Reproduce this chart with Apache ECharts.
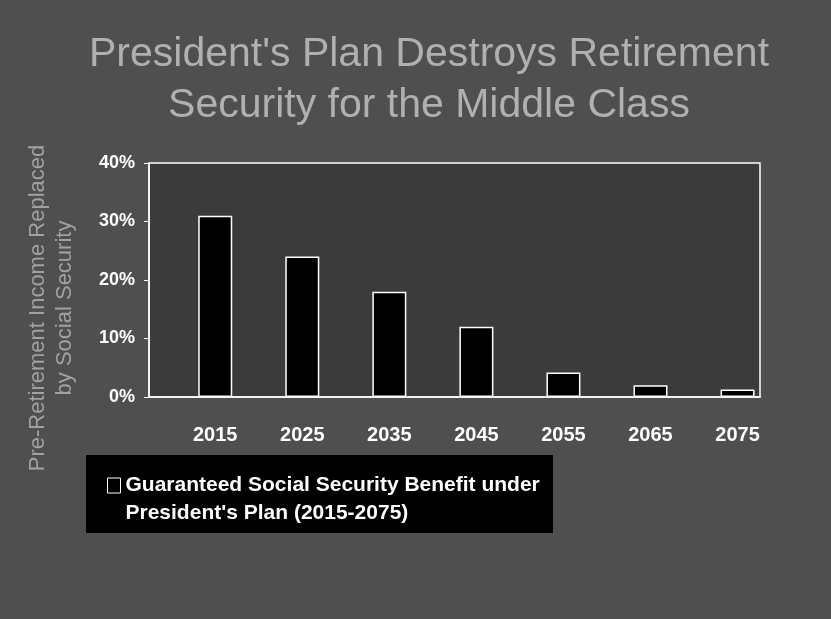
<!DOCTYPE html>
<html>
<head>
<meta charset="utf-8">
<title>President's Plan Destroys Retirement Security for the Middle Class</title>
<script src="https://cdn.jsdelivr.net/npm/echarts@6/dist/echarts.min.js"></script>
<style>
  html, body { margin: 0; padding: 0; background: #4f4f4f; }
  #chart { width: 831px; height: 619px; }
</style>
</head>
<body>
<div id="chart"></div>
<script>
// Share of pre-retirement income replaced by the guaranteed benefit, by year
const years = [2015, 2025, 2035, 2045, 2055, 2065, 2075];
const benefitPct = [31, 24, 18, 12, 4.2, 2, 1.3];

const titleLines = ["President's Plan Destroys Retirement", "Security for the Middle Class"];
const yAxisNameLines = ["Pre-Retirement Income Replaced", "by Social Security"];
const seriesName = "Guaranteed Social Security Benefit under\nPresident's Plan (2015-2075)";

const SANS = "'Liberation Sans', Arial, Helvetica, sans-serif";

const chart = echarts.init(document.getElementById('chart'), null, { renderer: 'canvas' });

chart.setOption({
  backgroundColor: '#4f4f4f',
  animation: false,
  title: {
    text: titleLines.join('\n'),
    left: 429,
    top: 29,
    padding: 0,
    textAlign: 'center',
    textStyle: {
      color: '#b0b0b0',
      fontFamily: SANS,
      fontWeight: 'normal',
      fontSize: 41,
      lineHeight: 51
    }
  },
  graphic: [{
    // black panel behind the legend
    type: 'rect',
    left: 86,
    top: 455,
    z: 0,
    shape: { width: 467, height: 78 },
    style: { fill: '#000' }
  }],
  legend: {
    left: 107,
    top: 443.5,
    padding: 0,
    itemWidth: 13,
    itemHeight: 15,
    itemGap: 5,
    icon: 'rect',
    itemStyle: { color: '#000', borderColor: '#fff', borderWidth: 1 },
    // a leading empty line keeps the first text line level with the swatch
    formatter: name => '\n' + name,
    textStyle: {
      color: '#fff',
      fontFamily: SANS,
      fontWeight: 'bold',
      fontSize: 21,
      lineHeight: 28
    },
    data: [seriesName]
  },
  grid: {
    left: 149,
    right: 71,
    top: 163,
    bottom: 222,
    show: true,
    backgroundColor: '#3b3b3b',
    borderColor: '#fff',
    borderWidth: 1.5,
    outerBoundsMode: 'none'
  },
  xAxis: {
    type: 'value',
    min: 2007.39,
    max: 2077.58,
    axisLine: { show: true, onZero: false, lineStyle: { color: '#fff', width: 1.5 } },
    axisTick: { show: false },
    splitLine: { show: false },
    axisLabel: {
      customValues: years,
      color: '#fff',
      fontFamily: SANS,
      fontWeight: 'bold',
      fontSize: 20,
      margin: 28,
      formatter: v => String(v)
    }
  },
  yAxis: {
    type: 'value',
    min: 0,
    max: 40,
    interval: 10,
    axisLine: { show: true, lineStyle: { color: '#fff', width: 1.5 } },
    axisTick: { show: true, length: 5, lineStyle: { color: '#fff', width: 1 } },
    splitLine: { show: false },
    axisLabel: {
      color: '#fff',
      fontFamily: SANS,
      fontWeight: 'bold',
      fontSize: 18,
      margin: 14,
      padding: [4, 0, 0, 0],
      formatter: '{value}%'
    },
    name: yAxisNameLines.join('\n'),
    nameLocation: 'middle',
    nameRotate: 90,
    nameGap: 71,
    nameTextStyle: {
      color: '#a2a2a2',
      fontFamily: SANS,
      fontSize: 22,
      lineHeight: 27,
      padding: [0, 56, 0, 0]
    }
  },
  series: [{
    type: 'bar',
    name: seriesName,
    data: years.map((y, i) => [y, benefitPct[i]]),
    barWidth: 34,
    itemStyle: { color: '#000', borderColor: '#fff', borderWidth: 1.5 }
  }]
});
</script>
</body>
</html>
